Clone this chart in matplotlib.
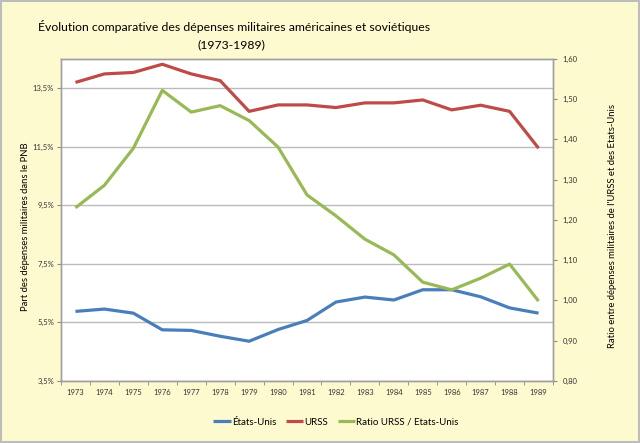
import matplotlib
matplotlib.use("Agg")
import matplotlib.pyplot as plt
from matplotlib.patches import Rectangle

years = [str(y) for y in range(1973, 1990)]
etats_unis = [5.87, 5.95, 5.81, 5.24, 5.22, 5.02, 4.85, 5.25, 5.56, 6.19, 6.36, 6.26, 6.61, 6.61, 6.37, 5.99, 5.81]
urss = [13.70, 13.99, 14.04, 14.32, 13.99, 13.76, 12.71, 12.93, 12.93, 12.84, 13.00, 13.00, 13.10, 12.76, 12.92, 12.71, 11.45]
ratio = [1.230, 1.286, 1.378, 1.522, 1.468, 1.484, 1.447, 1.381, 1.262, 1.210, 1.152, 1.113, 1.045, 1.026, 1.055, 1.090, 0.998]

left_ticks = [3.5, 5.5, 7.5, 9.5, 11.5, 13.5]
left_labels = ["3,5%", "5,5%", "7,5%", "9,5%", "11,5%", "13,5%"]
right_ticks = [0.8, 0.9, 1.0, 1.1, 1.2, 1.3, 1.4, 1.5, 1.6]
right_labels = ["0,80", "0,90", "1,00", "1,10", "1,20", "1,30", "1,40", "1,50", "1,60"]

plt.rcParams['font.family'] = ['Lato', 'DejaVu Sans']

fig = plt.figure(figsize=(6.4, 4.43), dpi=100)
fig.patch.set_facecolor('#FEFAD0')
fig.patches.append(Rectangle((0.002, 0.003), 0.996, 0.994, transform=fig.transFigure,
                             fill=False, edgecolor='#BDBDBD', linewidth=1.5))

ax = fig.add_axes([0.0953, 0.1406, 0.7688, 0.7262])
ax.set_facecolor('white')
x = list(range(len(years)))
c_us, c_ur, c_ra = '#4A7EBB', '#BE4B48', '#98B954'
lw = 2.3
l1, = ax.plot(x, etats_unis, color=c_us, lw=lw, label='États-Unis', solid_capstyle='butt')
l2, = ax.plot(x, urss, color=c_ur, lw=lw, label='URSS', solid_capstyle='butt')
ax.set_ylim(3.5, 14.5)
ax.set_xlim(-0.5, len(years) - 0.5)
ax.set_yticks(left_ticks)
ax.set_yticklabels(left_labels)
ax.set_xticks(x)
ax.set_xticklabels(years)
ax.set_xticks([i - 0.5 for i in range(len(years) + 1)], minor=True)
ax.tick_params(axis='x', which='major', length=0, labelsize=5.5, pad=6, colors='#333333')
ax.tick_params(axis='x', which='minor', length=3, color='#888888')
ax.tick_params(axis='y', labelsize=5.5, length=3, color='#888888', pad=2, colors='#333333')
ax.yaxis.grid(True, color='#BBBBBB', lw=1)
ax.set_axisbelow(True)
for s in ax.spines.values():
    s.set_color('#A0A0A0')
    s.set_linewidth(1)
ax.set_ylabel('Part des dépenses militaires dans le PNB', fontsize=6.8)
ax.yaxis.set_label_coords(-0.063, 0.48)

ax2 = ax.twinx()
l3, = ax2.plot(x, ratio, color=c_ra, lw=lw, label='Ratio URSS / Etats-Unis', solid_capstyle='butt')
ax2.set_ylim(0.8, 1.6)
ax2.set_yticks(right_ticks)
ax2.set_yticklabels(right_labels)
ax2.tick_params(axis='y', labelsize=5.5, length=3, color='#888888', pad=4, colors='#333333')
for s in ax2.spines.values():
    s.set_color('#A0A0A0')
    s.set_linewidth(1)
ax2.set_ylabel("Ratio entre dépenses militaires de l'URSS et des Etats-Unis", fontsize=6.8)
ax2.yaxis.set_label_coords(1.112, 0.48)

fig.text(0.366, 0.940, 'Évolution comparative des dépenses militaires américaines et soviétiques',
         ha='center', va='center', fontsize=8.8)
fig.text(0.362, 0.900, '(1973-1989)', ha='center', va='center', fontsize=8.8)

leg = fig.legend(handles=[l1, l2, l3], loc='center', bbox_to_anchor=(0.525, 0.047),
                 ncol=3, frameon=False, fontsize=7, handlelength=1.8, handletextpad=0.1,
                 columnspacing=1.0)

fig.savefig('out.png', dpi=100, facecolor=fig.get_facecolor())
